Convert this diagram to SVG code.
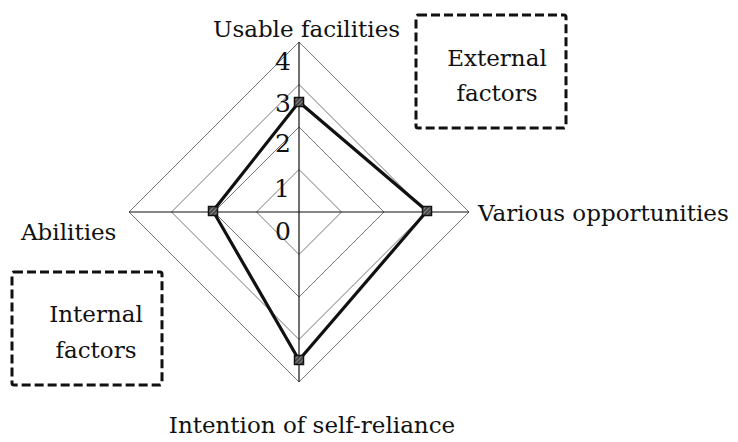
<svg xmlns="http://www.w3.org/2000/svg" width="738" height="442" viewBox="0 0 738 442">
  <defs>
    <pattern id="hatch" width="3" height="3" patternUnits="userSpaceOnUse" patternTransform="rotate(45)">
      <rect width="3" height="3" fill="#444"/>
      <line x1="0" y1="0" x2="0" y2="3" stroke="#ccc" stroke-width="1"/>
    </pattern>
    <style>
      .lbl { font-family: "DejaVu Serif", "Liberation Serif", serif; font-size: 23px; fill: #111; }
      .num { font-family: "DejaVu Serif", "Liberation Serif", serif; font-size: 25px; fill: #111; text-anchor: end; }
      .ring { fill: none; stroke: #666; stroke-width: 0.9; }
      .axis { stroke: #111; stroke-width: 1.2; }
      .box { fill: none; stroke: #111; stroke-width: 3; stroke-dasharray: 9 4; }
      .data { fill: none; stroke: #111; stroke-width: 3.2; stroke-linejoin: miter; }
      .mk { fill: url(#hatch); stroke: #111; stroke-width: 1.5; }
    </style>
  </defs>
  <rect width="738" height="442" fill="#fff"/>

  <g id="grid">
    <polygon class="ring" points="299,169.5 341.5,212 299,254.5 256.5,212"/>
    <polygon class="ring" points="299,127 384,212 299,297 214,212"/>
    <polygon class="ring" points="299,84.5 426.5,212 299,339.5 171.5,212"/>
    <polygon class="ring" points="299,42 469,212 299,382 129,212"/>
    <line class="axis" x1="299" y1="42" x2="299" y2="382"/>
    <line class="axis" x1="129" y1="212" x2="469" y2="212"/>
  </g>

  <g id="scale">
    <text class="num" x="291" y="70">4</text>
    <text class="num" x="291" y="112">3</text>
    <text class="num" x="291" y="152">2</text>
    <text class="num" x="290" y="197">1</text>
    <text class="num" x="291" y="240">0</text>
  </g>

  <g id="connectors">
    <polygon class="data" points="299,102 427,211 299,360 213,211"/>
    <rect class="mk" x="294.5" y="97.5" width="9" height="9"/>
    <rect class="mk" x="422.5" y="206.5" width="9" height="9"/>
    <rect class="mk" x="294.5" y="355.5" width="9" height="9"/>
    <rect class="mk" x="208.5" y="206.5" width="9" height="9"/>
  </g>

  <g id="usable-facilities">
    <text class="lbl" x="213" y="37">Usable facilities</text>
  </g>
  <g id="various-opportunities">
    <text class="lbl" x="478" y="221">Various opportunities</text>
  </g>
  <g id="abilities">
    <text class="lbl" x="21" y="240">Abilities</text>
  </g>
  <g id="intention-of-self-reliance">
    <text class="lbl" x="312" y="433" text-anchor="middle">Intention of self-reliance</text>
  </g>

  <g id="external-factors">
    <rect class="box" x="416" y="15" width="150" height="113" rx="2"/>
    <text class="lbl" x="497" y="66" text-anchor="middle">External</text>
    <text class="lbl" x="497" y="101" text-anchor="middle">factors</text>
  </g>
  <g id="internal-factors">
    <rect class="box" x="12" y="272" width="150" height="113" rx="2"/>
    <text class="lbl" x="96" y="322" text-anchor="middle">Internal</text>
    <text class="lbl" x="96" y="358" text-anchor="middle">factors</text>
  </g>
</svg>
